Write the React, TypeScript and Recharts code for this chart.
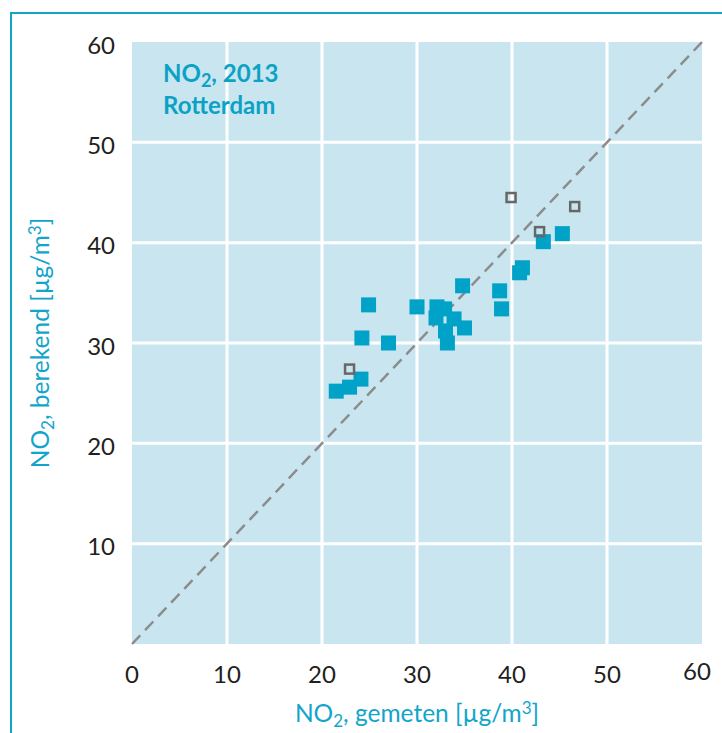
import React from "react";
import {
  ScatterChart,
  Scatter,
  XAxis,
  YAxis,
  CartesianGrid,
  ReferenceLine,
  Label,
} from "recharts";

// Stations shown as filled squares: measured (x) vs computed (y)
const filledMeasured = [21.5, 22.9, 24.1, 24.2, 24.9, 27.0, 30.0, 32.1, 32.9, 32.0, 33.9, 33.0, 35.0, 33.2, 34.8, 38.7, 38.9, 40.8, 41.1, 43.3, 45.3];
const filledComputed = [25.2, 25.6, 26.4, 30.5, 33.8, 30.0, 33.6, 33.6, 33.4, 32.5, 32.4, 31.2, 31.5, 30.0, 35.7, 35.2, 33.4, 37.0, 37.5, 40.1, 40.9];

// Stations shown as open squares
const openMeasured = [22.9, 39.9, 42.9, 46.6];
const openComputed = [27.4, 44.5, 41.1, 43.6];

const xTicks = [0, 10, 20, 30, 40, 50, 60];
const yTicks = [10, 20, 30, 40, 50, 60];
const gridValues = [10, 20, 30, 40, 50];
const diagonal = [
  { x: 0, y: 0 },
  { x: 60, y: 60 },
];

const filledData = filledMeasured.map((x, i) => ({ x, y: filledComputed[i] }));
const openData = openMeasured.map((x, i) => ({ x, y: openComputed[i] }));

const TEAL = "#12A5CB";
const FONT = "Lato, 'Open Sans', sans-serif";

const FilledSquare = (props: any) => {
  const { cx, cy } = props;
  return <rect x={cx - 7.5} y={cy - 7.5} width={15} height={15} fill="#00A2C7" />;
};

const OpenSquare = (props: any) => {
  const { cx, cy } = props;
  return (
    <rect x={cx - 4.5} y={cy - 4.5} width={9} height={9} fill="none" stroke="#676767" strokeWidth={2.5} />
  );
};

const XTick = (props: any) => {
  const { x, y, payload } = props;
  const last = payload.value === 60;
  return (
    <text
      x={x + (last ? -5 : 0)}
      y={y + (last ? 36 : 39)}
      textAnchor="middle"
      fontSize={24}
      fontFamily={FONT}
      fill="#231F20"
    >
      {payload.value}
    </text>
  );
};

const YTick = (props: any) => {
  const { y, payload } = props;
  return (
    <text x={115} y={y + 11.5} textAnchor="end" fontSize={24} fontFamily={FONT} fill="#231F20">
      {payload.value}
    </text>
  );
};

const XTitle = (props: any) => {
  const vb = props.viewBox || {};
  const cx = vb.x + vb.width / 2;
  const y = vb.y + 78;
  return (
    <text x={cx} y={y} textAnchor="middle" fontSize={24.5} fontFamily={FONT} fill={TEAL}>
      <tspan>NO</tspan>
      <tspan dy={5} fontSize={17}>2</tspan>
      <tspan dy={-5}>, gemeten [µg/m</tspan>
      <tspan dy={-8} fontSize={17}>3</tspan>
      <tspan dy={8}>]</tspan>
    </text>
  );
};

const YTitle = (props: any) => {
  const vb = props.viewBox || {};
  const cy = vb.y + vb.height / 2;
  const x = 48.5;
  return (
    <text
      x={x}
      y={cy}
      textAnchor="middle"
      fontSize={24.5}
      fontFamily={FONT}
      fill={TEAL}
      transform={`rotate(-90, ${x}, ${cy})`}
    >
      <tspan>NO</tspan>
      <tspan dy={5} fontSize={17}>2</tspan>
      <tspan dy={-5}>, berekend [µg/m</tspan>
      <tspan dy={-8} fontSize={17}>3</tspan>
      <tspan dy={8}>]</tspan>
    </text>
  );
};

export default function App() {
  return (
    <div style={{ position: "absolute", left: 0, top: 0, width: 722, height: 733, background: "#fff" }}>
      <div
        style={{
          position: "absolute",
          left: 9.5,
          top: 11.5,
          width: 722,
          height: 733,
          borderLeft: `2.5px solid ${TEAL}`,
          borderTop: `2.5px solid ${TEAL}`,
          boxSizing: "border-box",
        }}
      />
      <ScatterChart
        width={722}
        height={733}
        margin={{ top: 42, right: 20, bottom: 0, left: 10 }}
        style={{ position: "absolute", left: 0, top: 0 }}
      >
        <CartesianGrid
          fill="#C9E6F0"
          fillOpacity={1}
          stroke="#FFFFFF"
          strokeWidth={3}
          horizontalValues={gridValues}
          verticalValues={gridValues}
        />
        <XAxis
          type="number"
          dataKey="x"
          domain={[0, 60]}
          ticks={xTicks}
          interval={0}
          height={89}
          axisLine={false}
          tickLine={false}
          tickSize={0}
          tickMargin={0}
          tick={<XTick />}
        >
          <Label content={<XTitle />} />
        </XAxis>
        <YAxis
          type="number"
          dataKey="y"
          domain={[0, 60]}
          ticks={yTicks}
          interval={0}
          width={122}
          axisLine={false}
          tickLine={false}
          tickSize={0}
          tickMargin={0}
          tick={<YTick />}
        >
          <Label content={<YTitle />} />
        </YAxis>
        <ReferenceLine
          segment={diagonal}
          stroke="#8C8C8C"
          strokeWidth={2.5}
          strokeDasharray="12 7"
        />
        <Scatter data={filledData} shape={<FilledSquare />} isAnimationActive={false} />
        <Scatter data={openData} shape={<OpenSquare />} isAnimationActive={false} />
      </ScatterChart>
      <div
        style={{
          position: "absolute",
          left: 163,
          top: 58,
          fontFamily: FONT,
          fontWeight: 700,
          fontSize: 24,
          lineHeight: "29px",
          color: "#0BA2C6",
          whiteSpace: "nowrap",
        }}
      >
        <div>
          NO<span style={{ fontSize: 18, position: "relative", top: 5 }}>2</span>, 2013
        </div>
        <div>Rotterdam</div>
      </div>
    </div>
  );
}
